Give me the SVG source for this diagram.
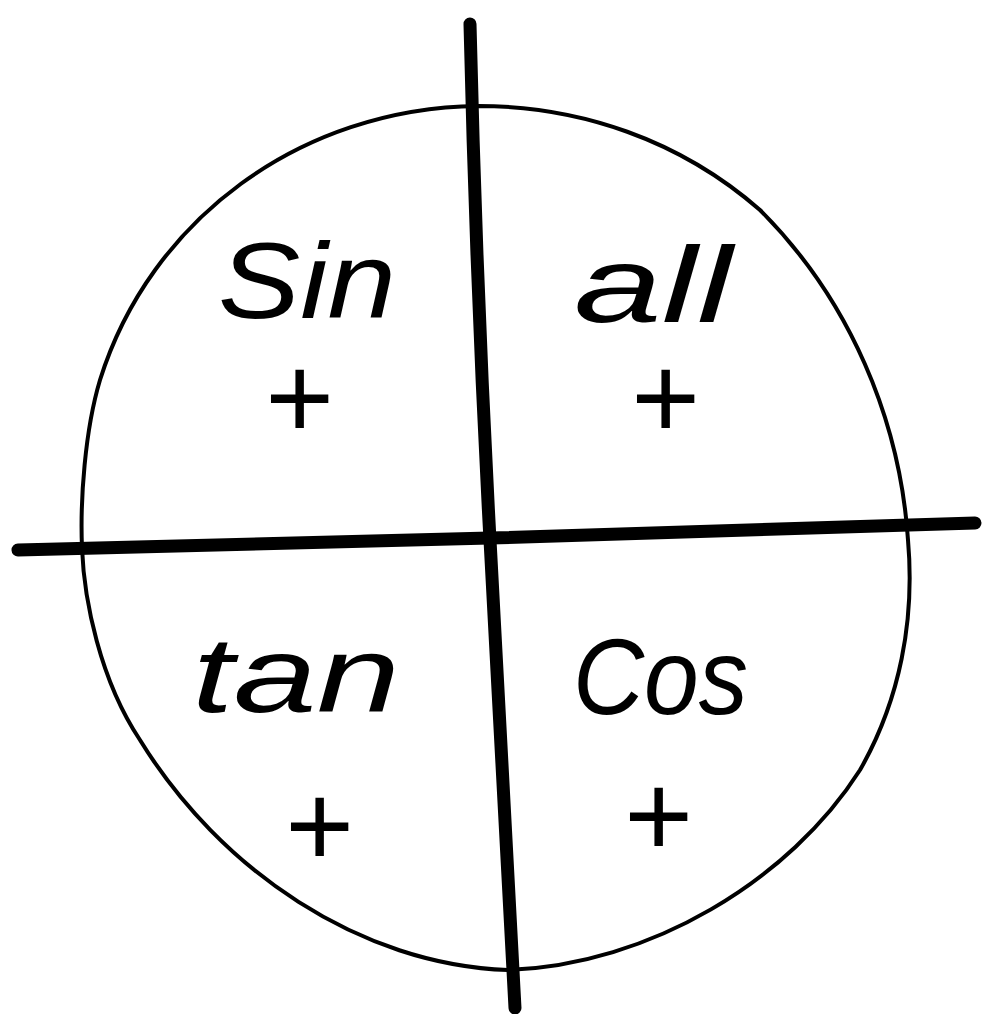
<svg xmlns="http://www.w3.org/2000/svg" width="982" height="1014" viewBox="0 0 982 1014">
<style>
.axis{fill:none;stroke:#000;stroke-width:13;stroke-linecap:round}
.rim{fill:none;stroke:#000;stroke-width:4}
.lbl{font-family:"Liberation Sans",sans-serif;font-style:italic;font-size:108px;fill:#000}
.pl{font-family:"Liberation Sans",sans-serif;font-style:italic;font-size:118px;fill:#000;text-anchor:middle}
</style>
<rect width="982" height="1014" fill="#fff"/>
<g id="circle">
<path class="rim" d="M478,106 C300,108 150,220 100,380 C85,430 80,500 82,548 C84,600 100,680 140,740 C220,870 360,965 508,970 C650,965 790,880 860,770 C900,700 915,620 908,540 C900,420 850,300 760,210 C680,140 580,106 478,106 Z"/>
</g>
<g id="connectors">
<path class="axis" d="M470,24 Q476,280 490,540 Q502,780 515,1008"/>
<path class="axis" d="M18,550 Q250,545 490,538 Q740,530 975,523"/>
</g>
<g id="sin"><text class="lbl" x="218" y="318" textLength="178" lengthAdjust="spacingAndGlyphs">Sin</text><text class="pl" x="298" y="438">+</text></g>
<g id="all"><text class="lbl" x="574" y="322" textLength="158" lengthAdjust="spacingAndGlyphs">all</text><text class="pl" x="664" y="438">+</text></g>
<g id="tan"><text class="lbl" x="192" y="712" textLength="208" lengthAdjust="spacingAndGlyphs">tan</text><text class="pl" x="318" y="866">+</text></g>
<g id="cos"><text class="lbl" x="573" y="714" textLength="175" lengthAdjust="spacingAndGlyphs">Cos</text><text class="pl" x="657" y="856">+</text></g>
</svg>
